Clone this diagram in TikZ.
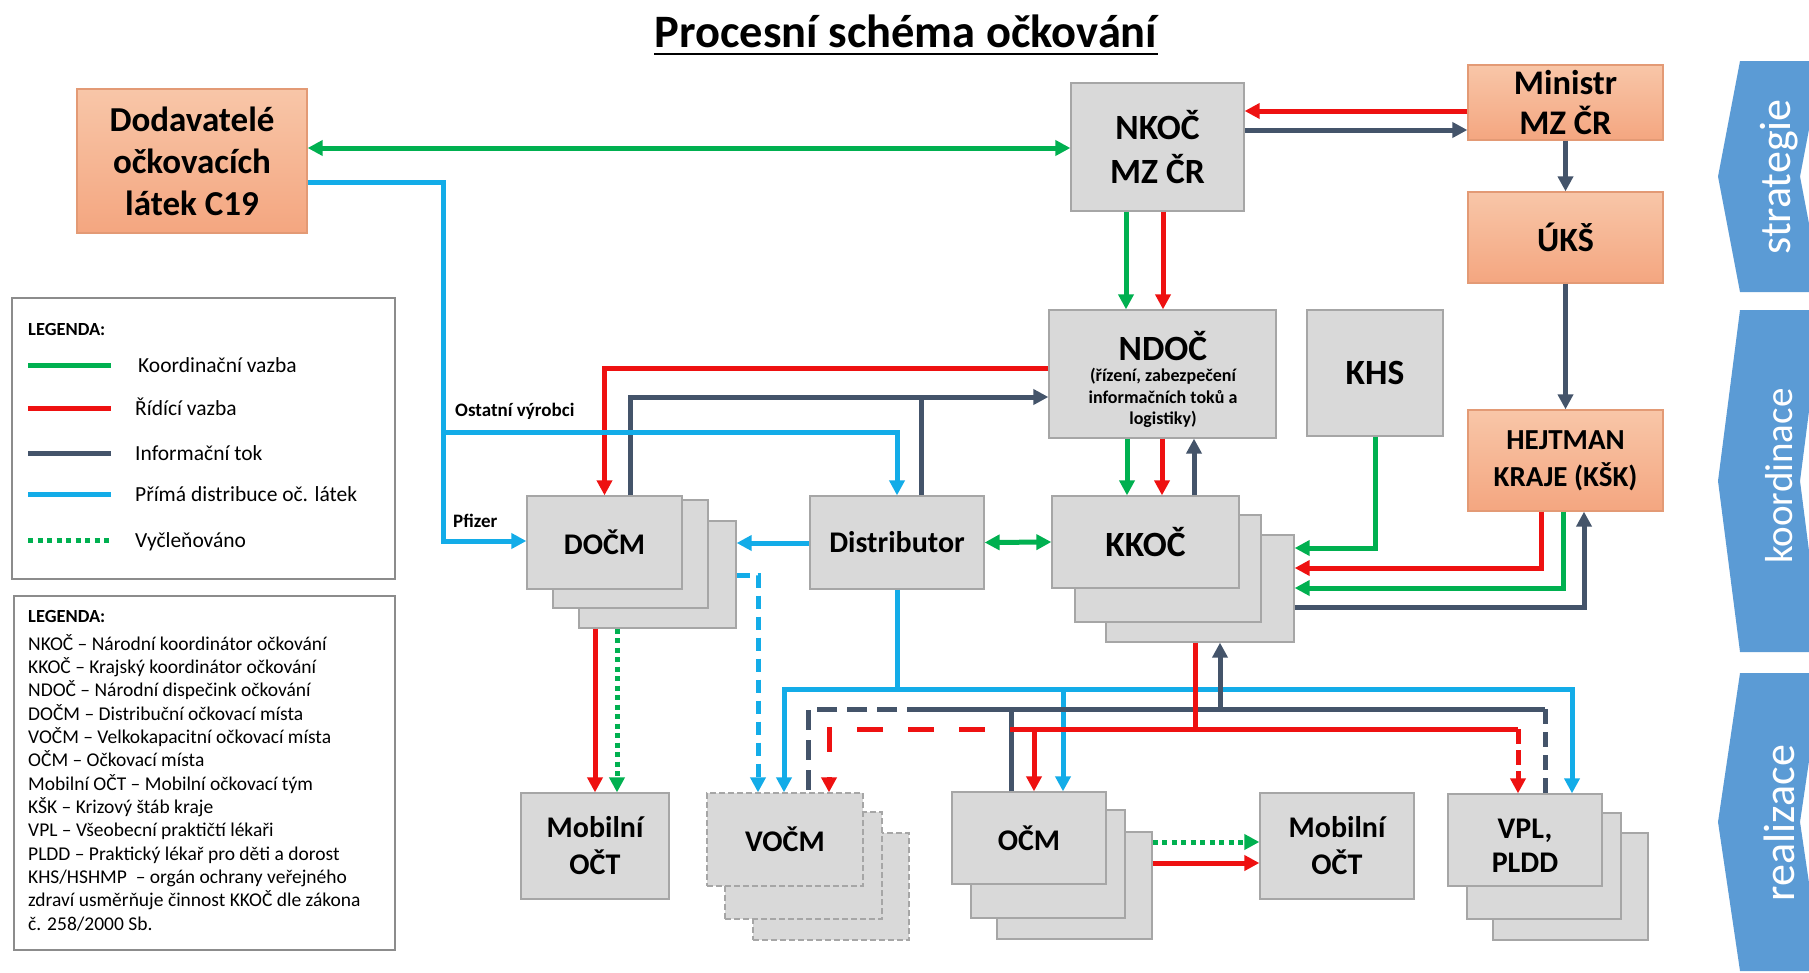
\documentclass[tikz,border=0pt]{standalone}
\usepackage{fontspec}
\setmainfont{Carlito}
\usetikzlibrary{arrows.meta}
\definecolor{gfill}{HTML}{D9D9D9}
\definecolor{gline}{HTML}{A6A6A6}
\definecolor{otop}{HTML}{F8C6A8}
\definecolor{obot}{HTML}{F4A680}
\definecolor{oline}{HTML}{E39A75}
\definecolor{cgreen}{HTML}{00B050}
\definecolor{cred}{HTML}{EE1111}
\definecolor{cdark}{HTML}{44546A}
\definecolor{cblue}{HTML}{13ACE8}
\definecolor{chev}{HTML}{5B9BD5}
\definecolor{legline}{HTML}{8C8C8C}
\tikzset{
  gbox/.style={draw=gline, fill=gfill, line width=1.3pt, inner sep=0pt, align=center,
    font=\bfseries\fontsize{30}{37}\selectfont},
  dbox/.style={gbox, dash pattern=on 6pt off 3pt},
  obox/.style={draw=oline, top color=otop, bottom color=obot, line width=1.3pt, inner sep=0pt,
    align=center, font=\bfseries\fontsize{34}{40}\selectfont},
  bigfont/.style={font=\bfseries\fontsize{35.5}{44}\selectfont},
  ln/.style={line width=5pt},
  arw/.style={-{Triangle[length=15pt,width=15pt]}},
  dbl/.style={{Triangle[length=15pt,width=15pt]}-{Triangle[length=15pt,width=15pt]}},
  cg/.style={ln, draw=cgreen},
  cr/.style={ln, draw=cred},
  cd/.style={ln, draw=cdark},
  cb/.style={ln, draw=cblue},
  dotg/.style={ln, draw=cgreen, dash pattern=on 5pt off 4.5pt},
  chevtext/.style={text=white, font=\fontsize{44}{50}\selectfont, rotate=90, inner sep=0pt},
  lbl/.style={font=\bfseries\fontsize{19}{22}\selectfont, inner sep=0pt, anchor=base west},
  legtxt/.style={font=\fontsize{21.5}{25}\selectfont, inner sep=0pt, anchor=base west},
  leg2txt/.style={font=\fontsize{19.5}{23.5}\selectfont, inner sep=0pt, anchor=base west},
  leghead/.style={font=\bfseries\fontsize{18.5}{22}\selectfont, inner sep=0pt, anchor=base west},
}
\begin{document}
\begin{tikzpicture}[x=1pt,y=-1pt]
\useasboundingbox (0,0) rectangle (1809,972);
\fill[white] (0,0) rectangle (1809,972);

% ---------- side chevrons ----------
\begin{scope}
\clip (0,0) rectangle (1809,972);
\fill[chev] (1740,61) -- (1822,61) -- (1800,176.5) -- (1822,292) -- (1740,292) -- (1718,176.5) -- cycle;
\fill[chev] (1740,310) -- (1822,310) -- (1800,481) -- (1822,652) -- (1740,652) -- (1718,481) -- cycle;
\fill[chev] (1740,673) -- (1822,673) -- (1800,822) -- (1822,971) -- (1740,971) -- (1718,822) -- cycle;
\end{scope}
\node[chevtext] (tstr) at (1779,177) {strategie};
\node[chevtext, font=\fontsize{39}{45}\selectfont] (tkoo) at (1779,476) {koordinace};
\node[chevtext] (trea) at (1779,823) {realizace};

% ---------- title ----------
\node[font=\bfseries\fontsize{46.5}{52}\selectfont, inner sep=0pt, anchor=base] (title) at (906,47) {Procesní schéma očkování};
\draw[line width=2.5pt] ([yshift=-7pt]title.base west) -- ([yshift=-7pt]title.base east);

% ---------- orange boxes ----------
\node[obox, minimum width=230pt, minimum height=144pt, font=\bfseries\fontsize{35}{42}\selectfont] (dod) at (192,161) {Dodavatelé\\očkovacích\\látek C19};
\node[obox, minimum width=195pt, minimum height=75pt, font=\bfseries\fontsize{34.5}{40}\selectfont] (minis) at (1565.5,102.5) {Ministr\\MZ ČR};
\node[obox, minimum width=195pt, minimum height=91pt] (uks) at (1565.5,237.5) {ÚKŠ};
\node[obox, minimum width=195pt, minimum height=101pt, font=\bfseries\fontsize{29}{37}\selectfont] (hej) at (1565.5,460.5) {HEJTMAN\\KRAJE (KŠK)};

% ---------- gray boxes ----------
\node[gbox, bigfont, minimum width=173pt, minimum height=128pt] (nkoc) at (1157.5,147) {NKOČ\\MZ ČR};
\node[gbox, minimum width=227pt, minimum height=128pt] (ndoc) at (1162.5,374) {};
\node[bigfont, inner sep=0pt] (ndoct) at (1163,346) {NDOČ};
\node[font=\bfseries\fontsize{18}{21.5}\selectfont, align=center, inner sep=0pt] (ndocs) at (1163,398) {(řízení, zabezpečení\\informačních toků a\\logistiky)};
\node[gbox, bigfont, minimum width=136pt, minimum height=126pt] (khs) at (1375,373) {KHS};

\node[gbox, minimum width=188pt, minimum height=107pt] (kkoc3) at (1200,588.5) {};
\node[gbox, minimum width=186pt, minimum height=107pt] (kkoc2) at (1168,568.5) {};
\node[gbox, bigfont, minimum width=187pt, minimum height=92pt] (kkoc) at (1145.5,542) {KKOČ};

\node[gbox, minimum width=174pt, minimum height=93pt] (dist) at (897,542.5) {Distributor};

\node[gbox, minimum width=157pt, minimum height=107pt] (docm3) at (657.5,574.5) {};
\node[gbox, minimum width=155pt, minimum height=108pt] (docm2) at (630.5,554) {};
\node[gbox, minimum width=155pt, minimum height=93pt] (docm) at (604.5,542.5) {DOČM};

\node[gbox, minimum width=148pt, minimum height=106pt] (mob1) at (595,846) {Mobilní\\OČT};

\node[dbox, minimum width=156pt, minimum height=107pt] (vocm3) at (831,886.5) {};
\node[dbox, minimum width=157pt, minimum height=107pt] (vocm2) at (803.5,865.5) {};
\node[dbox, minimum width=156pt, minimum height=93pt] (vocm) at (785,839.5) {VOČM};

\node[gbox, minimum width=155pt, minimum height=107pt] (ocm3) at (1074.5,885.5) {};
\node[gbox, minimum width=154pt, minimum height=108pt] (ocm2) at (1048,864) {};
\node[gbox, minimum width=154pt, minimum height=92pt] (ocm) at (1029,838) {OČM};

\node[gbox, minimum width=154pt, minimum height=106pt] (mob2) at (1337,846) {Mobilní\\OČT};

\node[gbox, minimum width=155pt, minimum height=107pt] (vpl3) at (1570.5,886.5) {};
\node[gbox, minimum width=154pt, minimum height=106pt] (vpl2) at (1544,866) {};
\node[gbox, minimum width=154pt, minimum height=92pt, text depth=0pt] (vpl) at (1525,840) {};
\node[font=\bfseries\fontsize{30}{34}\selectfont, align=center, inner sep=0pt] (vplt) at (1525,846) {VPL,\\PLDD};

% ---------- labels ----------
\node[lbl] (lost) at (455,416) {Ostatní výrobci};
\node[lbl] (lpf) at (453,527) {Pfizer};

% ---------- top connectors ----------
\draw[cg, dbl] (dod.east |- 0,148) -- (nkoc.west |- 0,148);
\draw[cr, arw] (minis.west |- 0,111) -- (nkoc.east |- 0,111);
\draw[cd, arw] (nkoc.east |- 0,130) -- (minis.west |- 0,130);
\draw[cd, arw] (minis.south) -- (uks.north);
\draw[cd, arw] (uks.south) -- (hej.north);
\draw[cg, arw] (1126,0 |- nkoc.south) -- (1126,0 |- ndoc.north);
\draw[cr, arw] (1163,0 |- nkoc.south) -- (1163,0 |- ndoc.north);
\draw[cg, arw] (1127,0 |- ndoc.south) -- (1127,0 |- kkoc.north);
\draw[cr, arw] (1162,0 |- ndoc.south) -- (1162,0 |- kkoc.north);
\draw[cd, arw] (1194,0 |- kkoc.north) -- (1194,0 |- ndoc.south);

% NDOC <-> DOCM, Distributor
\draw[cr, arw] (ndoc.west |- 0,368) -| (docm.north);
\draw[cd, arw] (630,0 |- docm.north) |- (ndoc.west |- 0,397);
\draw[cd] (921,0 |- dist.north) -- (921,397);

% supplier distribution
\draw[cb, arw] (dod.east |- 0,182) -| (443,541) -- (docm.west |- 0,541);
\draw[cb, arw] (443,432) -| (dist.north);
\draw[cb, arw] (dist.west |- 0,543) -- (docm3.east |- 0,543);
\draw[cg, dbl] (dist.east) -- (kkoc.west);

% KHS / HEJTMAN <-> KKOC
\draw[cg, arw] (khs.south) |- (kkoc3.east |- 0,548);
\draw[cr, arw] (1541,0 |- hej.south) |- (kkoc3.east |- 0,568);
\draw[cg, arw] (1563,0 |- hej.south) |- (kkoc3.east |- 0,588);
\draw[cd, arw] (kkoc3.east |- 0,607) -| (1584,0 |- hej.south);

% DOCM -> lower level
\draw[cr, arw] (595,0 |- docm3.south) -- (595,0 |- mob1.north);
\draw[dotg, arw] (617,0 |- docm3.south) -- (617,0 |- mob1.north);
\draw[cb, dash pattern=on 13pt off 8pt, arw] (docm3.east |- 0,575) -| (758,0 |- vocm.north);

% blue bus from Distributor
\draw[cb] (dist.south) -- (897,689);
\draw[cb, arw] (897,689) -| (784,0 |- vocm.north);
\draw[cb, arw] (897,689) -| (1572,0 |- vpl.north);
\draw[cb, arw] (1063,689) -- (1063,0 |- ocm.north);

% dark (information) bus
\draw[cd] (1011,0 |- ocm.north) -- (1011,709);
\draw[cd] (927,709) -- (1545,709);
\draw[cd, dash pattern=on 20pt off 10pt] (927,709) -- (808,709) -- (808,0 |- vocm.north);
\draw[cd, dash pattern=on 15pt off 8pt] (1545,709) -- (1545,0 |- vpl.north);
\draw[cd, arw] (1220,709) -- (1220,0 |- kkoc3.south);

% red (control) bus
\draw[cr] (1195,0 |- kkoc3.south) -- (1195,729);
\draw[cr] (1010,729) -- (1518,729);
\draw[cr, dash pattern=on 26pt off 25pt, dash phase=26pt, arw] (1010,729) -- (829,729) -- (829,0 |- vocm.north);
\draw[cr, arw] (1034,729) -- (1034,0 |- ocm.north);
\draw[cr, dash pattern=on 15pt off 6pt, arw] (1518,729) -- (1518,0 |- vpl.north);

% OCM -> Mobilni OCT
\draw[dotg, arw] (ocm3.east |- 0,842) -- (mob2.west |- 0,842);
\draw[cr, arw] (ocm3.east |- 0,863) -- (mob2.west |- 0,863);

% ---------- legend 1 ----------
\draw[legline, line width=1.3pt] (12,298) rectangle (395,579);
\node[leghead] (lh1) at (28,335) {LEGENDA:};
\draw[cg] (28,365) -- (111,365);
\draw[cr] (28,408) -- (111,408);
\draw[cd] (28,453) -- (111,453);
\draw[cb] (28,494) -- (111,494);
\draw[dotg] (28,540) -- (111,540);
\node[legtxt] (l1) at (138,372) {Koordinační vazba};
\node[legtxt] (l2) at (135,415) {Řídící vazba};
\node[legtxt] (l3) at (135,460) {Informační tok};
\node[legtxt] (l4) at (135,501) {Přímá distribuce oč. látek};
\node[legtxt] (l5) at (135,547) {Vyčleňováno};

% ---------- legend 2 ----------
\draw[legline, line width=1.3pt] (14,596) rectangle (395,950);
\node[leghead] (lh2) at (28,622) {LEGENDA:};
\foreach \t [count=\i] in {NKOČ – Národní koordinátor očkování,
  KKOČ – Krajský koordinátor očkování,
  NDOČ – Národní dispečink očkování,
  DOČM – Distribuční očkovací místa,
  VOČM – Velkokapacitní očkovací místa,
  OČM – Očkovací místa,
  Mobilní OČT – Mobilní očkovací tým,
  KŠK – Krizový štáb kraje,
  VPL – Všeobecní praktičtí lékaři,
  PLDD – Praktický lékař pro děti a dorost,
  KHS/HSHMP \ – orgán ochrany veřejného,
  zdraví usměrňuje činnost KKOČ dle zákona,
  č. 258/2000 Sb.}
  \node[leg2txt, name=lg\i] at (28,{626.7+\i*23.33}) {\t};
\end{tikzpicture}
\end{document}
